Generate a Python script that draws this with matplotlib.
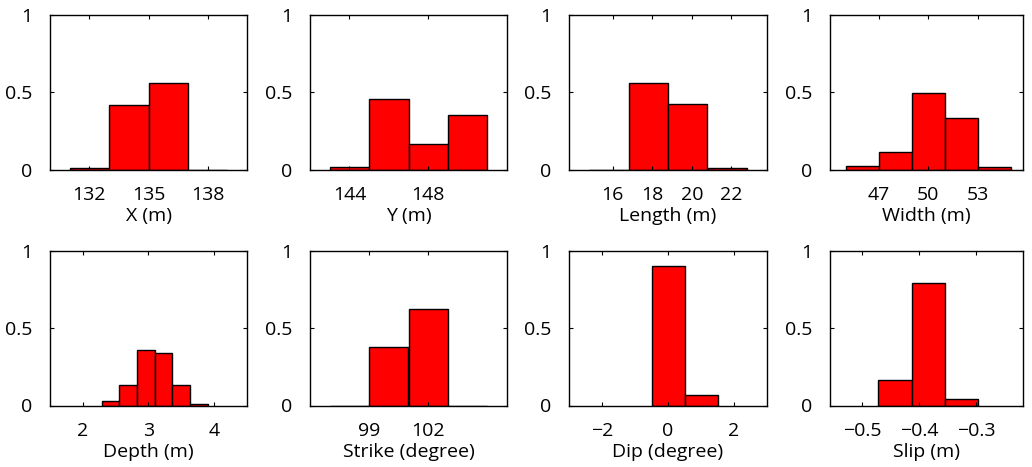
import matplotlib
matplotlib.use("Agg")
from matplotlib import pyplot as plt

plt.rcParams['font.family'] = ['Open Sans', 'DejaVu Sans']

# histogram bin centres and relative frequencies
x_centers = [132, 134, 136, 138]
x_freq = [0.01, 0.42, 0.56, 0.0]

y_centers = [144, 146, 148, 150]
y_freq = [0.015, 0.455, 0.165, 0.352]

length_centers = [15.82, 17.82, 19.8, 21.8]
length_freq = [0.0, 0.56, 0.425, 0.01]

width_centers = [46, 48, 50, 52, 54]
width_freq = [0.02, 0.115, 0.497, 0.335, 0.015]

depth_centers = [2.42, 2.69, 2.965, 3.23, 3.50, 3.77]
depth_freq = [0.03, 0.13, 0.356, 0.341, 0.134, 0.012]

strike_centers = [98, 100, 102, 104]
strike_freq = [0.0, 0.378, 0.626, 0.0]

dip_centers = [0, 1]
dip_freq = [0.9, 0.067]

slip_centers = [-0.443, -0.384, -0.326]
slip_freq = [0.168, 0.79, 0.039]

panels = [
    ("X (m)", x_centers, x_freq, 2, (130, 140), [132, 135, 138]),
    ("Y (m)", y_centers, y_freq, 2, (142, 152), [144, 148]),
    ("Length (m)", length_centers, length_freq, 1.98, (13.8, 23.8), [16, 18, 20, 22]),
    ("Width (m)", width_centers, width_freq, 2, (44.05, 55.75), [47, 50, 53]),
    ("Depth (m)", depth_centers, depth_freq, 0.27, (1.5, 4.5), [2, 3, 4]),
    ("Strike (degree)", strike_centers, strike_freq, 2, (96, 106), [99, 102]),
    ("Dip (degree)", dip_centers, dip_freq, 1, (-3, 3), [-2, 0, 2]),
    ("Slip (m)", slip_centers, slip_freq, 0.059, (-0.557, -0.218), [-0.5, -0.4, -0.3]),
]

W, H = 1032, 467
fig = plt.figure(figsize=(W / 100, H / 100), dpi=100)

col_left = [50, 310, 569, 830]
col_width = [197, 197, 198, 193]
row_top = [15, 251]
row_h = 154.5

for i, (label, centers, freq, bw, xlim, xticks) in enumerate(panels):
    r, c = divmod(i, 4)
    rect = [col_left[c] / W, 1 - (row_top[r] + row_h) / H, col_width[c] / W, row_h / H]
    ax = fig.add_axes(rect)
    ax.bar(centers, freq, width=bw, color="#ff0000", edgecolor="black", linewidth=1.0, align="center")
    ax.set_xlim(xlim)
    ax.set_ylim(0, 1)
    ax.set_xticks(xticks)
    ax.set_xticklabels([("%g" % t).replace("-", "\u2212") for t in xticks])
    ax.set_yticks([0, 0.5, 1])
    ax.set_yticklabels(["0", "0.5", "1"])
    ax.tick_params(direction="in", top=True, right=True, length=3, width=0.8, labelsize=14)
    ax.tick_params(axis="x", pad=12)
    ax.tick_params(axis="y", pad=13)
    for s in ax.spines.values():
        s.set_linewidth(1.0)
    ax.set_xlabel(label, fontsize=14, labelpad=2)

fig.savefig("out.png", dpi=100)
